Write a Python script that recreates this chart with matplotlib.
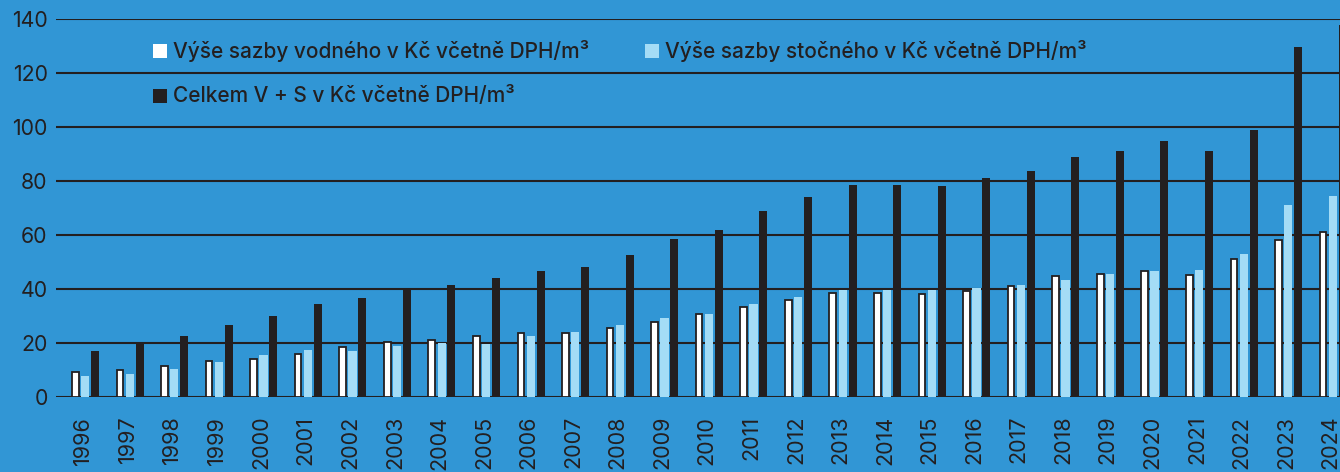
import matplotlib
matplotlib.use("Agg")
import matplotlib.pyplot as plt
from matplotlib.patches import Rectangle
import numpy as np

plt.rcParams["font.family"] = ["Inter", "DejaVu Sans"]

years = list(range(1996, 2025))
vodne = [9.3, 10.0, 11.6, 13.3, 14.2, 16.0, 18.4, 20.4, 21.2, 22.6,
         23.7, 23.8, 25.4, 27.9, 30.6, 33.3, 35.8, 38.4, 38.5, 38.3,
         39.3, 41.0, 44.7, 45.4, 46.8, 45.3, 51.1, 58.3, 61.0]
stocne = [7.8, 8.5, 10.4, 13.0, 15.6, 17.4, 17.0, 18.9, 20.0, 19.6,
          22.6, 24.1, 26.7, 29.3, 30.7, 34.4, 37.0, 39.6, 39.6, 39.6,
          40.4, 41.5, 43.3, 45.6, 46.7, 47.0, 53.0, 71.1, 74.4]
celkem = [17.0, 20.0, 22.6, 26.7, 30.0, 34.4, 36.5, 40.0, 41.5, 44.1,
          46.7, 48.1, 52.6, 58.5, 61.9, 68.9, 74.1, 78.5, 78.5, 78.1,
          81.1, 83.7, 88.9, 91.1, 94.8, 91.1, 98.9, 129.6, 137.8]

legend_labels = ["Výše sazby vodného v Kč včetně DPH/m³",
                 "Výše sazby stočného v Kč včetně DPH/m³",
                 "Celkem V + S v Kč včetně DPH/m³"]

BG = "#3196d5"
LIGHT = "#a4dcf6"
DARK = "#231f20"

W, H = 1340, 472
fig = plt.figure(figsize=(W / 100, H / 100), dpi=100, facecolor=BG)
ax = fig.add_axes([56 / W, 75 / H, 1 - 56 / W, (397 - 19) / H])
ax.set_facecolor(BG)

x = np.arange(len(years))
ax.bar(x - 0.222, vodne, width=0.15, color="white", edgecolor=DARK, linewidth=1.3, zorder=3)
ax.bar(x, stocne, width=0.186, color=LIGHT, linewidth=0, zorder=3)
ax.bar(x + 0.22, celkem, width=0.18, color=DARK, linewidth=0, zorder=3)

for v in range(0, 141, 20):
    ax.axhline(v, color=DARK, linewidth=1.5, zorder=1)

ax.set_xlim(-0.655, 28.16)
ax.set_ylim(0, 140)
ax.set_yticks(range(0, 141, 20))
ax.set_xticks(x - 0.05)
ax.set_xticklabels([str(y) for y in years], rotation=90, va="top", ha="center")
ax.tick_params(axis="x", length=0, pad=13.5, labelsize=15.5, labelcolor=DARK)
ax.tick_params(axis="y", length=0, pad=6, labelsize=15.3, labelcolor=DARK)
for s in ax.spines.values():
    s.set_visible(False)

# legend drawn by hand
items = [(153, 51, "white", legend_labels[0]),
         (645, 51, LIGHT, legend_labels[1]),
         (153, 96, DARK, legend_labels[2])]
for px, py, col, lab in items:
    fig.patches.append(Rectangle((px / W, 1 - (py + 7) / H), 14 / W, 14 / H,
                                 transform=fig.transFigure, facecolor=col,
                                 edgecolor="none", zorder=5))
    fig.text((px + 20) / W, 1 - py / H, lab, fontsize=15, color=DARK,
             va="center", ha="left", fontweight="medium")

fig.savefig("out.png", dpi=100, facecolor=BG)
